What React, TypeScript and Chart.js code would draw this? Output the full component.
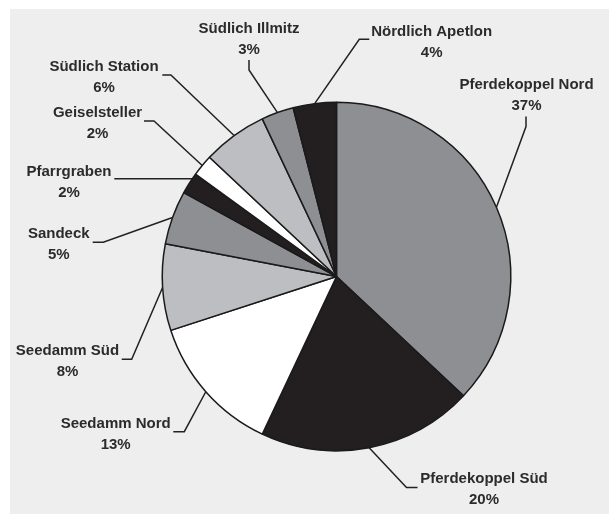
import React, { useEffect, useRef } from "react";
import { Chart, registerables } from "chart.js";

Chart.register(...registerables);

// ---- data ----
const categories = [
  "Pferdekoppel Nord",
  "Pferdekoppel Süd",
  "Seedamm Nord",
  "Seedamm Süd",
  "Sandeck",
  "Pfarrgraben",
  "Geiselsteller",
  "Südlich Station",
  "Südlich Illmitz",
  "Nördlich Apetlon",
];
const shares = [37, 20, 13, 8, 5, 2, 2, 6, 3, 4];

// ---- styles ----
const GREY = "#8e8f93";
const BLACK = "#231f20";
const LIGHT = "#bdbec2";
const WHITE = "#ffffff";
const sliceColors = [GREY, BLACK, WHITE, LIGHT, GREY, BLACK, WHITE, LIGHT, GREY, BLACK];

// ---- label layout (text centre x, cap-centre y of first line; leader end & knee) ----
type Lay = { tx: number; ty: number; end: [number, number]; knee: [number, number]; horizontal?: boolean };
const labelLayout: Lay[] = [
  { tx: 526.5, ty: 84, end: [526, 116.5], knee: [526, 126.5] },
  { tx: 484, ty: 477.7, end: [417.5, 487.5], knee: [406.5, 487.5] },
  { tx: 115.7, ty: 422.3, end: [173.3, 431.7], knee: [184.3, 431.7] },
  { tx: 67.5, ty: 350, end: [121.7, 359.3], knee: [131.7, 359.3] },
  { tx: 58.8, ty: 233, end: [92.7, 242.3], knee: [103.3, 242.3] },
  { tx: 69, ty: 170.7, end: [114.3, 178.7], knee: [150, 178.7], horizontal: true },
  { tx: 97.5, ty: 111.7, end: [144, 121], knee: [154, 121] },
  { tx: 104, ty: 65.3, end: [162.3, 75], knee: [170.9, 75] },
  { tx: 249, ty: 27.5, end: [249, 60], knee: [249, 70] },
  { tx: 431.7, ty: 30.7, end: [369.3, 39.3], knee: [359.3, 39.3] },
];

const FONT = 'bold 15px "Liberation Sans", Arial, sans-serif';
const LINE_GAP = 21;

const leaderPlugin = {
  id: "leaders",
  afterDatasetsDraw(chart: any) {
    const ctx = chart.ctx as CanvasRenderingContext2D;
    const meta = chart.getDatasetMeta(0);
    ctx.save();
    meta.data.forEach((arc: any, i: number) => {
      const { x, y, startAngle, endAngle, outerRadius } = arc.getProps(
        ["x", "y", "startAngle", "endAngle", "outerRadius"],
        true
      );
      const L = labelLayout[i];
      let px: number, py: number;
      if (L.horizontal) {
        const dy = L.knee[1] - y;
        px = x - Math.sqrt(Math.max(outerRadius * outerRadius - dy * dy, 0));
        py = L.knee[1];
      } else {
        const mid = (startAngle + endAngle) / 2;
        px = x + Math.cos(mid) * outerRadius;
        py = y + Math.sin(mid) * outerRadius;
      }
      ctx.strokeStyle = "#222222";
      ctx.lineWidth = 1.5;
      ctx.beginPath();
      ctx.moveTo(L.end[0], L.end[1]);
      ctx.lineTo(L.knee[0], L.knee[1]);
      ctx.lineTo(px, py);
      ctx.stroke();

      ctx.fillStyle = "#2b2b2b";
      ctx.font = FONT;
      ctx.textAlign = "center";
      ctx.textBaseline = "alphabetic";
      const capHalf = 15 * 0.358;
      ctx.fillText(chart.data.labels[i], L.tx, L.ty + capHalf);
      ctx.fillText(`${chart.data.datasets[0].data[i]}%`, L.tx, L.ty + LINE_GAP + capHalf);
    });
    ctx.restore();
  },
};

export default function App() {
  const ref = useRef<HTMLCanvasElement>(null);
  useEffect(() => {
    document.body.style.margin = "0";
    const chart = new Chart(ref.current!, {
      type: "pie",
      data: {
        labels: categories,
        datasets: [
          {
            data: shares,
            backgroundColor: sliceColors,
            borderColor: "#1a1a1a",
            borderWidth: 1.5,
          },
        ],
      },
      options: {
        responsive: false,
        animation: false,
        layout: { padding: { left: 161, right: 97, top: 101.5, bottom: 62.5 } },
        plugins: {
          legend: { display: false },
          tooltip: { enabled: false },
        },
      },
      plugins: [leaderPlugin],
    });
    return () => chart.destroy();
  }, []);
  return (
    <div style={{ position: "relative", width: 609, height: 514, background: "#ffffff" }}>
      <div style={{ position: "absolute", left: 10, top: 9, right: 0, bottom: 0, background: "#eeeeee" }} />
      <canvas ref={ref} width={609} height={514} style={{ position: "absolute", left: 0, top: 0 }} />
    </div>
  );
}
